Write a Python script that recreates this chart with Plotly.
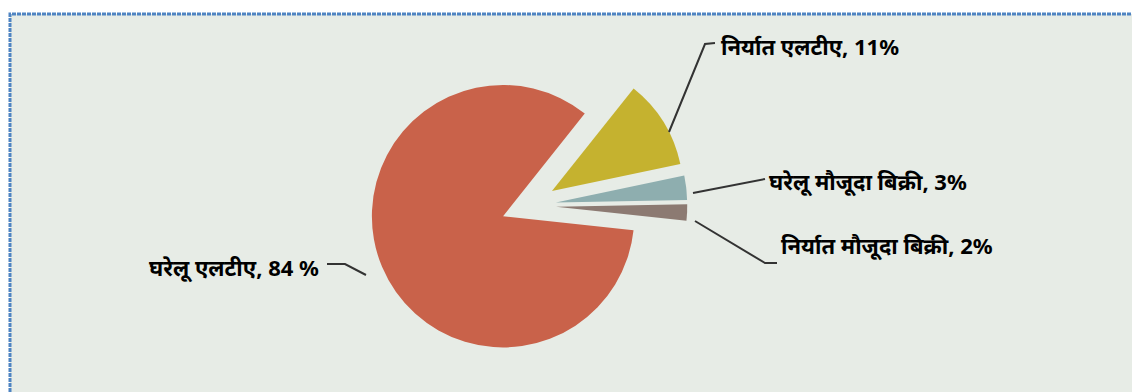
import plotly.graph_objects as go

W, H = 1132, 392

labels = ["निर्यात एलटीए", "घरेलू मौजूदा बिक्री", "निर्यात मौजूदा बिक्री", "घरेलू एलटीए"]
values = [11, 3, 2, 84]
label_texts = ["निर्यात एलटीए, 11%", "घरेलू मौजूदा बिक्री, 3%", "निर्यात मौजूदा बिक्री, 2%", "घरेलू एलटीए, 84 %"]
colors = ["#c5b22f", "#8eaeaf", "#8c7a72", "#c9624a"]

def px(x, y):
    return x / W, 1 - y / H

# pie geometry (pixels)
cx, cy, r, pull = 528.5, 205.6, 131.2, 0.21
side = r * (2 + 2 * pull)
dx0, _ = px(cx - side / 2, 0)
dx1, _ = px(cx + side / 2, 0)
_, dy1 = px(0, cy - side / 2)
_, dy0 = px(0, cy + side / 2)

fig = go.Figure(go.Pie(
    labels=labels, values=values, sort=False, direction="clockwise",
    rotation=38.5, pull=[pull] * 4, textinfo="none", hoverinfo="label+percent",
    marker=dict(colors=colors, line=dict(width=0)),
    domain=dict(x=[dx0, dx1], y=[dy0, dy1]), showlegend=False,
))

shapes = []
# background panel with blue dotted border
x0, y0 = px(10, 14)
x1, y1 = px(1145, 405)
shapes.append(dict(type="rect", xref="paper", yref="paper", x0=x0, y0=y1, x1=x1, y1=y0,
                   fillcolor="#e7ece6", line=dict(color="#4f84c2", width=3, dash="4px,1px"), layer="below"))

leaders = [
    [(669, 132), (705, 44), (715, 43)],
    [(693, 193), (765, 179)],
    [(695, 221), (765, 263), (777, 263)],
    [(327, 264), (345, 264), (366, 275)],
]
for pts in leaders:
    path = ""
    for i, (x, y) in enumerate(pts):
        u, v = px(x, y)
        path += ("M" if i == 0 else "L") + f"{u},{v} "
    shapes.append(dict(type="path", xref="paper", yref="paper", path=path.strip(),
                       line=dict(color="#333333", width=2)))

text_pos = [(719, 46, "left"), (767, 181, "left"), (779, 245, "left"), (321, 267, "right")]
annotations = []
for t, (x, y, anc) in zip(label_texts, text_pos):
    u, v = px(x, y)
    annotations.append(dict(x=u, y=v, xref="paper", yref="paper", text=f"<b>{t}</b>", showarrow=False,
                            xanchor=anc, yanchor="middle",
                            font=dict(size=22, color="#000000", family="Noto Sans, DejaVu Sans, sans-serif")))

fig.update_layout(width=W, height=H, margin=dict(l=0, r=0, t=0, b=0),
                  paper_bgcolor="#ffffff", plot_bgcolor="#ffffff",
                  shapes=shapes, annotations=annotations)

fig.write_html("out.html")
